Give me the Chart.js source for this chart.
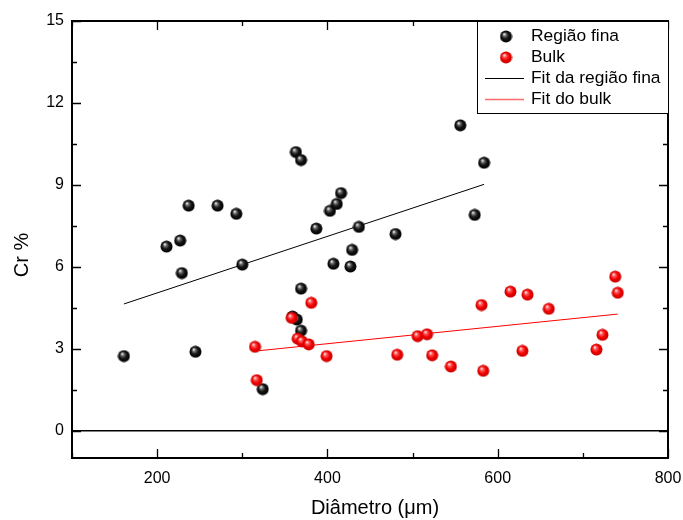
<!DOCTYPE html>
<html>
<head>
<meta charset="utf-8">
<script src="https://cdn.jsdelivr.net/npm/chart.js@4"></script>
<style>
  html, body { margin: 0; padding: 0; background: #fff; }
  canvas { display: block; }
</style>
</head>
<body>
<canvas id="chart" width="683" height="520"></canvas>
<script>
// values
const regiaoX = [161, 211, 227, 229, 237, 245, 271, 293, 300, 324, 359, 364, 363, 369, 369, 369, 387, 403, 407, 411, 416, 427, 429, 437, 480, 556, 573, 584];
const regiaoY = [2.73, 6.74, 6.96, 5.77, 8.24, 2.89, 8.24, 7.94, 6.08, 1.52, 4.18, 4.07, 10.2, 9.91, 5.20, 3.66, 7.40, 8.05, 6.11, 8.30, 8.70, 6.01, 6.62, 7.46, 7.20, 11.18, 7.90, 9.81];

const bulkX = [315, 317, 358, 365, 370, 378, 381, 399, 482, 506, 517, 523, 545, 581, 583, 615, 629, 635, 660, 716, 723, 738, 741];
const bulkY = [3.07, 1.85, 4.13, 3.37, 3.27, 3.16, 4.68, 2.73, 2.78, 3.46, 3.53, 2.76, 2.35, 4.60, 2.19, 5.09, 2.92, 4.98, 4.46, 2.97, 3.51, 5.64, 5.05];

// fit lines, endpoints as drawn in the figure
const fitRegiaoX = [161, 584];
const fitRegiaoY = [4.64, 9.02];
const fitBulkX = [320, 741];
const fitBulkY = [2.93, 4.27];

const xTicks = [200, 400, 600, 800];
const xMinorTicks = [100, 300, 500, 700];
const yTicks = [0, 3, 6, 9, 12, 15];
const yMinorTicks = [1.5, 4.5, 7.5, 10.5, 13.5];

const legendLabels = ["Região fina", "Bulk", "Fit da região fina", "Fit do bulk"];
const xTitle = "Diâmetro (μm)";
const yTitle = "Cr %";

const FONT = "Arial, 'Liberation Sans', sans-serif";

function toPoints(xs, ys) {
  return xs.map((x, i) => ({ x, y: ys[i] }));
}

// shaded sphere marker, like the Origin "ball" symbol
function makeBall(r, stops) {
  const c = document.createElement("canvas");
  const size = r * 2 + 1;
  c.width = size;
  c.height = size;
  const ctx = c.getContext("2d");
  const g = ctx.createRadialGradient(size * 0.36, size * 0.32, 0.5, size / 2, size / 2, r);
  stops.forEach(([o, col]) => g.addColorStop(o, col));
  ctx.fillStyle = g;
  ctx.beginPath();
  ctx.arc(size / 2, size / 2, r, 0, Math.PI * 2);
  ctx.fill();
  return c;
}

const blackBall = makeBall(6, [[0, "#e6e6e6"], [0.22, "#6a6a6a"], [0.55, "#151515"], [1, "#000"]]);
const redBall = makeBall(6, [[0, "#ffe0e0"], [0.22, "#ff5a5a"], [0.6, "#f00000"], [1, "#c80000"]]);

const framePlugin = {
  id: "frame",
  beforeDatasetsDraw(chart) {
    const { ctx, chartArea: a, scales } = chart;
    const y0 = scales.y.getPixelForValue(0);
    ctx.save();
    ctx.strokeStyle = "#000";
    ctx.lineWidth = 1.6;
    ctx.beginPath();
    ctx.moveTo(a.left, y0);
    ctx.lineTo(a.right, y0);
    ctx.stroke();
    ctx.restore();
  },
  afterDraw(chart) {
    const { ctx, chartArea: a, scales } = chart;
    ctx.save();
    ctx.strokeStyle = "#000";

    // ticks pointing inward on all four sides
    ctx.lineWidth = 1.3;
    const major = 9, minor = 5;
    ctx.beginPath();
    const xt = (v, len) => {
      const p = Math.round(scales.x.getPixelForValue(v)) + 0.5;
      ctx.moveTo(p, a.bottom); ctx.lineTo(p, a.bottom - len);
      ctx.moveTo(p, a.top); ctx.lineTo(p, a.top + len);
    };
    const yt = (v, len) => {
      const p = Math.round(scales.y.getPixelForValue(v)) + 0.5;
      ctx.moveTo(a.left, p); ctx.lineTo(a.left + len, p);
      ctx.moveTo(a.right, p); ctx.lineTo(a.right - len, p);
    };
    xTicks.forEach(v => xt(v, major));
    xMinorTicks.forEach(v => xt(v, minor));
    yTicks.forEach(v => yt(v, major));
    yMinorTicks.forEach(v => yt(v, minor));
    ctx.stroke();

    ctx.lineWidth = 2;
    ctx.strokeRect(a.left, a.top, a.right - a.left, a.bottom - a.top);

    // legend box, top right corner of the plot
    const lx = 477, lw = a.right - lx, lh = 92;
    ctx.fillStyle = "#fff";
    ctx.fillRect(lx, a.top, lw, lh);
    ctx.lineWidth = 1;
    ctx.strokeRect(lx + 0.5, a.top + 0.5, lw, lh);
    ctx.font = "17.4px " + FONT;
    ctx.textBaseline = "middle";
    ctx.fillStyle = "#000";
    const rows = [36.5, 57.5, 78.5, 99.5];
    ctx.drawImage(blackBall, 506 - 6.5, rows[0] - 6.5);
    ctx.drawImage(redBall, 506 - 6.5, rows[1] - 6.5);
    ctx.lineWidth = 1;
    ctx.strokeStyle = "#000";
    ctx.beginPath(); ctx.moveTo(485, rows[2]); ctx.lineTo(524, rows[2]); ctx.stroke();
    ctx.lineWidth = 1.5;
    ctx.strokeStyle = "#ff6a6a";
    ctx.beginPath(); ctx.moveTo(485, rows[3]); ctx.lineTo(524, rows[3]); ctx.stroke();
    legendLabels.forEach((t, i) => ctx.fillText(t, 531, rows[i]));

    // axis titles
    ctx.font = "20px " + FONT;
    ctx.textAlign = "center";
    ctx.fillText(xTitle, 375, 508);
    ctx.translate(22, 255);
    ctx.rotate(-Math.PI / 2);
    ctx.fillText(yTitle, 0, 0);
    ctx.restore();
  },
};

new Chart(document.getElementById("chart"), {
  type: "scatter",
  data: {
    datasets: [
      {
        label: legendLabels[1],
        data: toPoints(bulkX, bulkY),
        pointStyle: redBall,
        order: 0,
      },
      {
        label: legendLabels[0],
        data: toPoints(regiaoX, regiaoY),
        pointStyle: blackBall,
        order: 1,
      },
      {
        label: legendLabels[2],
        data: toPoints(fitRegiaoX, fitRegiaoY),
        showLine: true,
        borderColor: "#000",
        borderWidth: 1,
        pointRadius: 0,
        order: 2,
      },
      {
        label: legendLabels[3],
        data: toPoints(fitBulkX, fitBulkY),
        showLine: true,
        borderColor: "#ff0000",
        borderWidth: 1,
        pointRadius: 0,
        order: 3,
      },
    ],
  },
  options: {
    responsive: false,
    animation: false,
    devicePixelRatio: 1,
    layout: { padding: { left: 0, right: 15, top: 21, bottom: 0 } },
    plugins: {
      legend: { display: false },
      tooltip: { enabled: false },
    },
    scales: {
      x: {
        type: "linear",
        min: 100,
        max: 800,
        afterBuildTicks: (s) => { s.ticks = xTicks.map(v => ({ value: v })); },
        afterFit: (s) => { s.height = 62; s.paddingLeft = 0; s.paddingRight = 0; },
        grid: { display: false, drawTicks: false },
        border: { display: false },
        ticks: { color: "#000", padding: 11, font: { family: FONT, size: 16 } },
      },
      y: {
        type: "linear",
        min: -1,
        max: 15,
        afterBuildTicks: (s) => { s.ticks = yTicks.map(v => ({ value: v })); },
        afterFit: (s) => { s.width = 72; s.paddingTop = 0; s.paddingBottom = 0; },
        grid: { display: false, drawTicks: false },
        border: { display: false },
        ticks: { color: "#000", padding: 8, font: { family: FONT, size: 16 } },
      },
    },
  },
  plugins: [framePlugin],
});
</script>
</body>
</html>
